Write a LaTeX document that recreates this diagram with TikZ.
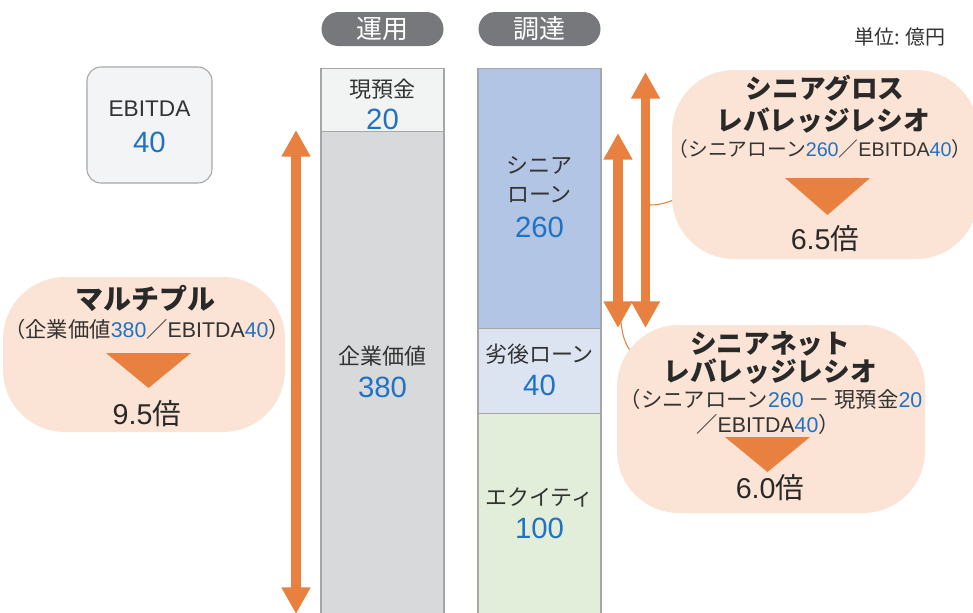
\documentclass[tikz,border=0pt]{standalone}
\usepackage{fontspec}
\setmainfont{Noto Sans CJK JP}
\newfontfamily\ar{Liberation Sans}
\usetikzlibrary{arrows.meta}
\definecolor{org}{HTML}{E8803F}
\definecolor{peach}{HTML}{FBE4D5}
\definecolor{numblue}{HTML}{2272C3}
\definecolor{txt}{HTML}{333333}
\definecolor{pillgray}{HTML}{77787B}
\definecolor{edge}{HTML}{A6A6A6}
\definecolor{cashc}{HTML}{F2F3F3}
\definecolor{evc}{HTML}{D8D9DB}
\definecolor{src}{HTML}{B2C5E4}
\definecolor{subc}{HTML}{DCE3F1}
\definecolor{eqc}{HTML}{E2EEDA}
\definecolor{ebc}{HTML}{F3F4F5}
\newcommand\fsz[1]{\fontsize{#1}{#1}\selectfont}
\newcommand\bl[1]{{\ar\color{numblue}#1}}
\begin{document}
\begin{tikzpicture}[x=0.75pt,y=-0.75pt,
  block/.style={draw=edge, line width=0.8pt, minimum width=123*0.75pt, inner sep=0pt, anchor=north},
  pill/.style={fill=pillgray, text=white, minimum width=122*0.75pt, minimum height=34*0.75pt, rounded corners=17*0.75pt, inner sep=0pt, font=\fsz{19.5}},
  lbl/.style={text=txt, inner sep=0pt, font=\fsz{16.5}},
  num/.style={text=numblue, inner sep=0pt, font=\fsz{22}\ar},
  bubble/.style={fill=peach, inner sep=0pt, rounded corners=62*0.75pt},
  btitle/.style={text=txt!80!black, inner sep=0pt, font=\fsz{20}\bfseries},
  bsub/.style={text=txt, inner sep=0pt, font=\fsz{16}},
  bres/.style={text=txt!80!black, inner sep=0pt, font=\fsz{21.5}},
  arr/.style={draw=org, line width=7.3pt, {Triangle[length=20pt,width=20.5pt]}-{Triangle[length=20pt,width=20.5pt]}},
  conn/.style={draw=org, line width=0.8pt},
  tri/.style={fill=org}
]
\useasboundingbox (0,0) rectangle (973,612);
\clip (0,0) rectangle (973,612);

% headers
\node[pill] (unyo) at (382.5,29) {運用};
\node[pill] (chotatsu) at (539.5,29) {調達};
\node[text=txt, inner sep=0pt, font=\fsz{15}] (unit) at (900,37) {単位: 億円};

% EBITDA box
\node[draw=edge, fill=ebc, line width=0.8pt, rounded corners=14*0.75pt, minimum width=125*0.75pt, minimum height=116*0.75pt, inner sep=0pt] (ebbox) at (149.5,125) {};
\node[text=txt, inner sep=0pt, font=\fsz{17}\ar] (ebT) at (149.5,109) {EBITDA};
\node[num] (ebN) at (149.5,142) {40};

% left column
\node[block, fill=cashc, minimum height=63*0.75pt] (cash) at (382.5,68) {};
\node[block, fill=evc, minimum height=492*0.75pt] (ev) at (382.5,131) {};
\node[lbl] (cashT) at (382.5,89) {現預金};
\node[num] (cashN) at (382.5,119) {20};
\node[lbl] (evT) at (382.5,356) {企業価値};
\node[num] (evN) at (382.5,387) {380};

% right column
\node[block, fill=src, minimum height=260*0.75pt] (sen) at (539.5,68) {};
\node[block, fill=subc, minimum height=85*0.75pt] (sub) at (539.5,328) {};
\node[block, fill=eqc, minimum height=210*0.75pt] (eq) at (539.5,413) {};
\node[lbl] (senT1) at (539.5,165) {シニア};
\node[lbl] (senT2) at (539.5,195) {ローン};
\node[num] (senN) at (539.5,227) {260};
\node[lbl] (subT) at (539.5,354) {劣後ローン};
\node[num] (subN) at (539.5,385) {40};
\node[lbl] (eqT) at (539.5,497) {エクイティ};
\node[num] (eqN) at (539.5,528) {100};

% connectors (under bubbles)
\coordinate (c1a) at (650,205);
\coordinate (c1b) at (686,195);
\draw[conn] (c1a) to[out=0,in=200] (c1b);
\coordinate (c2a) at (621,322);
\coordinate (c2b) at (646,362);
\draw[conn] (c2a) to[out=-85,in=160] (c2b);

% bubbles
\node[bubble, minimum width=282*0.75pt, minimum height=155*0.75pt] (multB) at (144,354.5) {};
\node[btitle, font=\fsz{21}\bfseries] (multT) at (145,298) {マルチプル};
\node[bsub] (multS) at (147,329) {（企業価値\bl{380}／{\ar EBITDA}\bl{40}）};
\fill[tri] (106,353) -- (191,353) -- (148.5,388) -- cycle;
\node[bres] (multR) at (147,414) {{\ar 9.5}倍};

\node[bubble, minimum width=306*0.75pt, minimum height=189*0.75pt] (grossB) at (825,164.5) {};
\node[btitle] (grossT1) at (825,88) {シニアグロス};
\node[btitle] (grossT2) at (823,120) {レバレッジレシオ};
\node[bsub, font=\fsz{14.8}] (grossS) at (820,149) {（シニアローン\bl{260}／{\ar EBITDA}\bl{40}）};
\fill[tri] (785,178) -- (870,178) -- (827.5,215) -- cycle;
\node[bres] (grossR) at (825,239) {{\ar 6.5}倍};

\node[bubble, minimum width=308*0.75pt, minimum height=188*0.75pt] (netB) at (771,419) {};
\node[btitle] (netT1) at (770,344) {シニアネット};
\node[btitle] (netT2) at (770,371) {レバレッジレシオ};
\node[bsub] (netS1) at (771,399) {（シニアローン\bl{260} － 現預金\bl{20}};
\node[bsub] (netS2) at (768,424) {／{\ar EBITDA}\bl{40}）};
\fill[tri] (725,437) -- (810,437) -- (767.5,472) -- cycle;
\node[bres] (netR) at (770,488) {{\ar 6.0}倍};

% arrows
\coordinate (la1) at (296,130);
\coordinate (la2) at (296,614);
\draw[arr] (la1) -- (la2);
\coordinate (ra1) at (618,133);
\coordinate (ra2) at (618,328);
\draw[arr] (ra1) -- (ra2);
\coordinate (rb1) at (645.5,72);
\coordinate (rb2) at (645.5,328);
\draw[arr] (rb1) -- (rb2);
\end{tikzpicture}
\end{document}
